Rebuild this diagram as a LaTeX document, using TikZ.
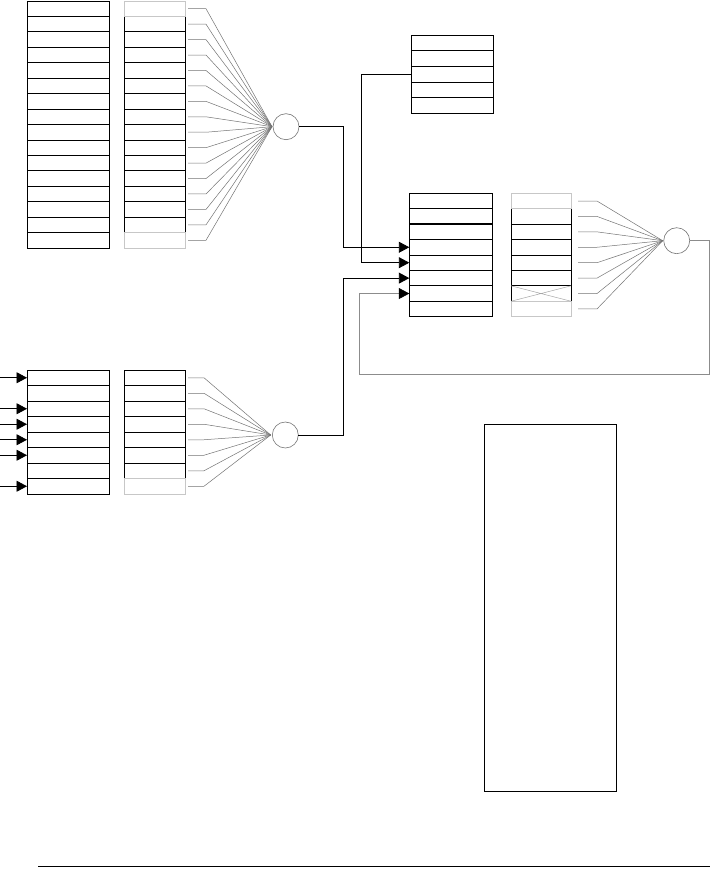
\documentclass[tikz,border=0pt]{standalone}
\usetikzlibrary{arrows.meta}
\begin{document}
\begin{tikzpicture}[x=1pt,y=-1pt,
  cell/.style={draw=black,line width=0.9pt,inner sep=0pt,outer sep=0pt,minimum height=15.44pt},
  wide/.style={cell,minimum width=82pt},
  narrow/.style={cell,minimum width=61pt},
  faint/.style={draw=black!22},
  fan/.style={draw=black!55,line width=0.5pt},
  sumnode/.style={circle,draw=black!55,line width=0.6pt,minimum size=26pt,inner sep=0pt,outer sep=0pt},
  link/.style={line width=0.9pt},
  tip/.style={-{Triangle[length=10.5pt,width=11pt,color=black]}}]
\useasboundingbox (0,0) rectangle (711,877);

% ---------- top-left stacks ----------
\foreach \i in {1,...,16} \node[wide] (a\i) at (68,{1+15.44*(\i-0.5)}) {};
\foreach \i in {2,...,15} \node[narrow] (b\i) at (154.5,{1+15.44*(\i-0.5)}) {};
\node[narrow,faint] (b1) at (154.5,{1+15.44*0.5}) {};
\node[narrow,faint] (b16) at (154.5,{1+15.44*15.5}) {};
\coordinate (fa) at (272,126.7);
\foreach \i in {1,...,16} \draw[fan] ([xshift=3pt]b\i.east) -- ++(18,0) -- (fa);
\node[sumnode] (ca) at (286,126.7) {};

% ---------- top-right stack ----------
\foreach \i in {1,...,5} \node[wide,minimum height=15.6pt] (c\i) at (452,{35.3+15.6*(\i-0.5)}) {};

% ---------- middle-right stacks ----------
\foreach \i in {1,...,8} \node[cell,minimum width=83pt] (d\i) at (450.8,{193.3+15.42*(\i-0.5)}) {};
\draw[line width=1.6pt] (d3.north west) -- (d3.north east);
\foreach \i in {2,...,7} \node[cell,minimum width=60pt] (e\i) at (541,{193.3+15.42*(\i-0.5)}) {};
\node[cell,faint,minimum width=60pt] (e1) at (541,{193.3+15.42*0.5}) {};
\node[cell,faint,minimum width=60pt] (e8) at (541,{193.3+15.42*7.5}) {};
\draw[fan,draw=black!35] (e7.north west) -- (e7.south east) (e7.south west) -- (e7.north east);
\coordinate (fe) at (662.7,240.7);
\foreach \i in {1,...,8} \draw[fan] ([xshift=7pt]e\i.east) -- ++(19,0) -- (fe);
\node[sumnode] (ce) at (676.7,240.7) {};

% ---------- bottom-left stacks ----------
\foreach \i in {1,...,8} \node[wide,minimum height=15.5pt] (f\i) at (68,{370+15.5*(\i-0.5)}) {};
\foreach \i in {1,...,7} \node[narrow,minimum height=15.5pt] (g\i) at (154.5,{370+15.5*(\i-0.5)}) {};
\node[narrow,faint,minimum height=15.5pt] (g8) at (154.5,{370+15.5*7.5}) {};
\foreach \i in {1,3,4,5,6,8} \draw[link,tip] ([xshift=-27pt]f\i.west) -- (f\i.west);
\coordinate (fg) at (270.7,435);
\foreach \i in {1,...,8} \draw[fan] ([xshift=3pt]g\i.east) -- ++(16,0) -- (fg);
\node[sumnode] (cg) at (285.3,435) {};

% ---------- connectors into D ----------
\draw[link,tip] (ca.east) -| ([xshift=-66pt]d4.west) -- (d4.west);
\draw[link,tip] (c3.west) -| ([xshift=-48pt]d5.west) -- (d5.west);
\draw[link,tip] (cg.east) -| ([xshift=-66pt]d6.west) -- (d6.west);
\coordinate (fb) at (359,374.3);
\draw[line width=0.7pt,draw=black!45,tip] (ce.east) -- ++(20,0) |- (fb) |- (d7.west);

% ---------- big box and bottom rule ----------
\node[draw,line width=0.9pt,inner sep=0pt,minimum width=131.7pt,minimum height=367pt] (big) at (550.15,607.8) {};
\coordinate (l1) at (38.3,866.7);
\coordinate (l2) at (710,866.7);
\draw[line width=1pt] (l1) -- (l2);
\end{tikzpicture}
\end{document}
